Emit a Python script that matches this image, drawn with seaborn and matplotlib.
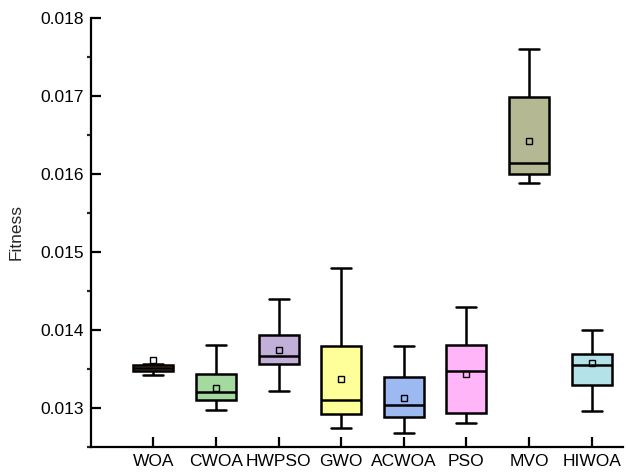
import matplotlib
matplotlib.use("Agg")
import matplotlib.pyplot as plt
from matplotlib.ticker import MultipleLocator
import seaborn as sns
import numpy as np
import pandas as pd

# ---------------------------------------------------------------------
# Box statistics (one entry per algorithm)
algs = ['WOA', 'CWOA', 'HWPSO', 'GWO', 'ACWOA', 'PSO', 'MVO', 'HIWOA']
lo = [0.013420, 0.012979, 0.013223, 0.012740, 0.012685, 0.012813, 0.015881, 0.012967]
q1 = [0.013480, 0.013099, 0.013564, 0.012919, 0.012885, 0.012936, 0.015996, 0.013300]
med = [0.013515, 0.013205, 0.013672, 0.013108, 0.013038, 0.013474, 0.016141, 0.013547]
q3 = [0.013555, 0.013441, 0.013936, 0.013791, 0.013397, 0.013804, 0.016992, 0.013697]
hi = [0.013560, 0.013808, 0.014403, 0.014800, 0.013795, 0.014295, 0.017608, 0.013996]
means = [0.013615, 0.013262, 0.013740, 0.013372, 0.013128, 0.013432, 0.016428, 0.013582]
colors = ['#85624c', '#a4d9a0', '#c2b0d8', '#ffff99', '#9cb9f2', '#ffb5f7', '#b5b993', '#b3e3e8']

# ---------------------------------------------------------------------
# long-form table: five summary values per algorithm
rows = []
for i, a in enumerate(algs):
    for v in (lo[i], q1[i], med[i], q3[i], hi[i]):
        rows.append((a, v))
df = pd.DataFrame(rows, columns=['Algorithm', 'Fitness'])
df_mean = pd.DataFrame({'Algorithm': algs, 'Fitness': means})

sns.set_theme(style="ticks")
plt.rcParams['font.family'] = ['Liberation Sans', 'DejaVu Sans']

fig = plt.figure(figsize=(6.28, 4.73), dpi=100)
ax = fig.add_axes([0.1444, 0.055, 0.8476, 0.907])

sns.boxplot(data=df, x='Algorithm', y='Fitness', hue='Algorithm', palette=colors,
            order=algs, hue_order=algs, whis=np.inf, width=0.64, linewidth=1.8,
            linecolor='black', legend=False, saturation=1, ax=ax)
sns.pointplot(data=df_mean, x='Algorithm', y='Fitness', order=algs, color='black',
              linestyle='none', marker='s', markersize=5, markeredgewidth=1,
              markerfacecolor='none', errorbar=None, ax=ax)

ax.set_xlim(-1, 7.5)
ax.set_ylim(0.0125, 0.018)
ax.yaxis.set_minor_locator(MultipleLocator(0.0005))
ax.set_yticks(np.arange(0.013, 0.01801, 0.001))
ax.set_yticklabels(['0.013', '0.014', '0.015', '0.016', '0.017', '0.018'])
ax.set_xlabel('')
ax.set_ylabel('Fitness', fontsize=12.5, labelpad=12)

sns.despine(ax=ax)
for s in ['left', 'bottom']:
    ax.spines[s].set_linewidth(1.6)
    ax.spines[s].set_color('black')
ax.tick_params(axis='both', which='major', direction='in', length=7, width=1.6,
               labelsize=12.5, colors='black', pad=5)
ax.tick_params(axis='y', which='minor', direction='out', length=3, width=1.6)
ax.tick_params(axis='x', pad=5)

fig.savefig('out.png', dpi=100)
